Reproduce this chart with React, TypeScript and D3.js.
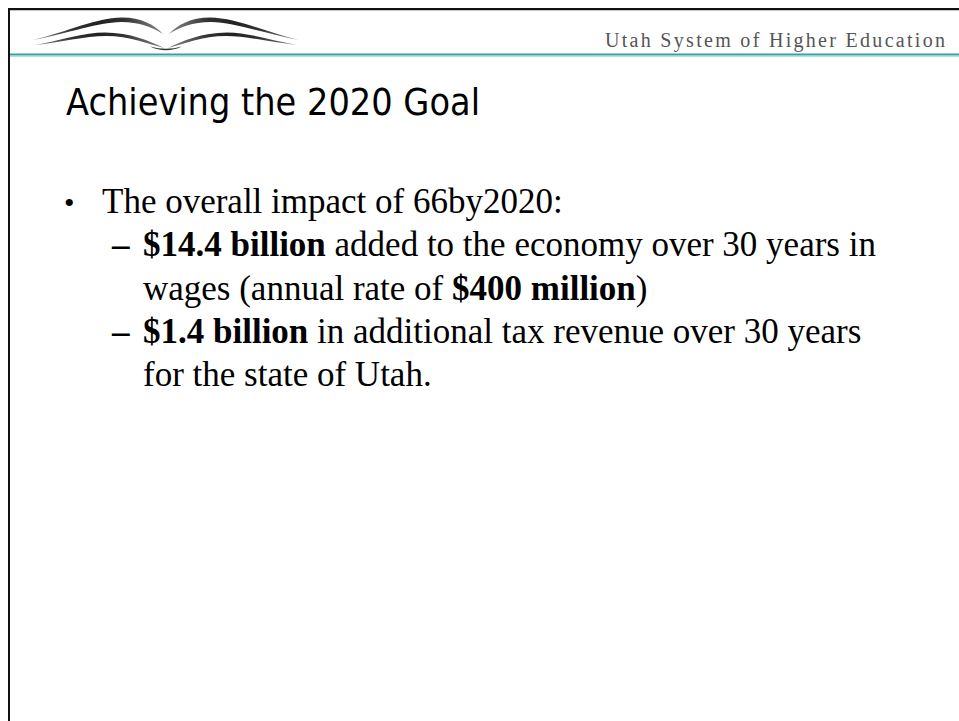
import React from "react";
import * as d3 from "d3";

const headerText = "Utah System of Higher Education";
const titleText = "Achieving the 2020 Goal";

type Seg = { t: string; b?: boolean };
type Line = { level: number; marker: string; segs: Seg[] };

const bodyLines: Line[] = [
  { level: 0, marker: "•", segs: [{ t: "The overall impact of 66by2020:" }] },
  {
    level: 1,
    marker: "–",
    segs: [{ t: "$14.4 billion", b: true }, { t: " added to the economy over 30 years in" }],
  },
  {
    level: 1,
    marker: "",
    segs: [{ t: "wages (annual rate of " }, { t: "$400 million", b: true }, { t: ")" }],
  },
  {
    level: 1,
    marker: "–",
    segs: [{ t: "$1.4 billion", b: true }, { t: " in additional tax revenue over 30 years" }],
  },
  { level: 1, marker: "", segs: [{ t: "for the state of Utah." }] },
];

const W = 959;
const H = 721;

export default function App() {
  const yLine = d3
    .scaleLinear()
    .domain([0, bodyLines.length - 1])
    .range([213, 386]);
  const xText = d3.scaleOrdinal<number, number>().domain([0, 1]).range([102, 143]);

  // open-book logo (decoration)
  const cx = 166;
  const wing = (s: number) => {
    const X = (x: number) => cx + s * (x - cx);
    const p = d3.path();
    // upper stroke
    p.moveTo(X(33), 40);
    p.bezierCurveTo(X(70), 31, X(95), 18, X(122), 17.5);
    p.bezierCurveTo(X(141), 17.5, X(155), 25, X(163), 34);
    p.bezierCurveTo(X(152), 27, X(140), 22, X(121), 22);
    p.bezierCurveTo(X(97), 22.5, X(70), 33, X(33), 40);
    p.closePath();
    // lower stroke
    p.moveTo(X(35), 45);
    p.bezierCurveTo(X(60), 40.5, X(84), 32.5, X(105), 32.5);
    p.bezierCurveTo(X(130), 32.5, X(150), 41, X(164), 48);
    p.bezierCurveTo(X(148), 44, X(130), 36, X(106), 36);
    p.bezierCurveTo(X(85), 36, X(60), 42.5, X(35), 45);
    p.closePath();
    return p.toString();
  };
  const center = d3.path();
  center.moveTo(150, 46.5);
  center.quadraticCurveTo(166, 54, 182, 46.5);
  center.quadraticCurveTo(166, 51, 150, 46.5);
  center.closePath();

  return (
    <svg
      width={W}
      height={H}
      viewBox={`0 0 ${W} ${H}`}
      style={{ position: "absolute", left: 0, top: 0, display: "block", background: "#fff" }}
    >
      <defs>
        <linearGradient id="bookGrad" x1="0" y1="0" x2="1" y2="0" gradientUnits="objectBoundingBox">
          <stop offset="0" stopColor="#8a8a8a" />
          <stop offset="0.3" stopColor="#333" />
          <stop offset="0.5" stopColor="#222" />
          <stop offset="0.7" stopColor="#333" />
          <stop offset="1" stopColor="#8a8a8a" />
        </linearGradient>
      </defs>
      <rect x={0} y={0} width={W} height={H} fill="#ffffff" />
      {/* frame */}
      <line x1={8} y1={9} x2={W} y2={9} stroke="#111" strokeWidth={2} />
      <line x1={10} y1={10.5} x2={W} y2={10.5} stroke="#c4c4c4" strokeWidth={1} />
      <line x1={9} y1={8} x2={9} y2={H} stroke="#111" strokeWidth={2} />
      {/* teal rule */}
      <line x1={10} y1={54.5} x2={W} y2={54.5} stroke="#2aa6a6" strokeWidth={2} />
      <line x1={10} y1={56.5} x2={W} y2={56.5} stroke="#b5e0e0" strokeWidth={1} />
      {/* logo */}
      <g fill="url(#bookGrad)">
        <path d={wing(1)} />
        <path d={wing(-1)} />
      </g>
      <path d={center.toString()} fill="#333" />
      {/* header */}
      <text
        x={605}
        y={47}
        fontFamily="'Liberation Serif', serif"
        fontSize={20}
        fill="#555"
        textLength={340}
        lengthAdjust="spacing"
      >
        {headerText}
      </text>
      {/* title */}
      <text
        x={66}
        y={115}
        fontFamily="'DejaVu Sans', sans-serif"
        fontSize={38}
        fill="#000"
        textLength={414}
        lengthAdjust="spacingAndGlyphs"
      >
        {titleText}
      </text>
      {/* body */}
      {bodyLines.map((ln, i) => {
        const y = yLine(i);
        return (
          <g key={i}>
            {ln.marker === "•" && (
              <text x={64} y={y} fontFamily="'Liberation Serif', serif" fontSize={30} fill="#000">
                •
              </text>
            )}
            {ln.marker === "–" && (
              <text
                x={112}
                y={y}
                fontFamily="'Liberation Serif', serif"
                fontSize={35}
                fontWeight="bold"
                fill="#000"
              >
                –
              </text>
            )}
            <text x={xText(ln.level)} y={y} fontFamily="'Liberation Serif', serif" fontSize={35} fill="#000">
              {ln.segs.map((s, j) => (
                <tspan key={j} fontWeight={s.b ? "bold" : "normal"}>
                  {s.t}
                </tspan>
              ))}
            </text>
          </g>
        );
      })}
    </svg>
  );
}
